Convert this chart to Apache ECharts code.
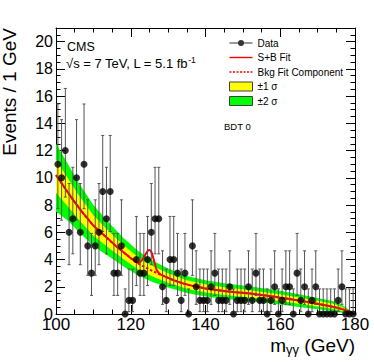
<!DOCTYPE html>
<html>
<head>
<meta charset="utf-8">
<script src="https://cdn.jsdelivr.net/npm/echarts@6/dist/echarts.min.js"></script>
<style>
  html, body { margin: 0; padding: 0; background: #fff; }
  #chart { width: 374px; height: 362px; }
</style>
</head>
<body>
<div id="chart"></div>
<script>
// diphoton mass spectrum, BDT category 0, 1 GeV bins
const massBins = [
  100.5, 101.5, 102.5, 103.5, 104.5, 105.5, 106.5, 107.5, 108.5, 109.5,
  110.5, 111.5, 112.5, 113.5, 114.5, 115.5, 116.5, 117.5, 118.5, 119.5,
  120.5, 121.5, 122.5, 123.5, 124.5, 125.5, 126.5, 127.5, 128.5, 129.5,
  130.5, 131.5, 132.5, 133.5, 134.5, 135.5, 136.5, 137.5, 138.5, 139.5,
  140.5, 141.5, 142.5, 143.5, 144.5, 145.5, 146.5, 147.5, 148.5, 149.5,
  150.5, 151.5, 152.5, 153.5, 154.5, 155.5, 156.5, 157.5, 158.5, 159.5,
  160.5, 161.5, 162.5, 163.5, 164.5, 165.5, 166.5, 167.5, 168.5, 169.5,
  170.5, 171.5, 172.5, 173.5, 174.5, 175.5, 176.5, 177.5, 178.5, 179.5
];
const events = [
  11, 10, 12, 6, 7, 10, 6, 11, 5, 3,
  5, 6, 9, 7, 9, 3, 3, 5, 0, 1,
  1, 4, 3, 3, 4, 6, 7, 7, 2, 1,
  4, 4, 3, 1, 3, 0, 5, 2, 1, 1,
  1, 2, 3, 1, 1, 1, 2, 0, 1, 1,
  1, 2, 1, 3, 1, 1, 0, 1, 2, 0,
  1, 2, 2, 0, 3, 1, 2, 0, 1, 2,
  0, 0, 0, 0, 0, 1, 2, 0, 0, 0
];
// 68% poisson interval edges, looked up by count n = 0..12
const poissonLow = [0, 0.173, 0.708, 1.367, 2.086, 2.840, 3.620, 4.419, 5.232, 6.057, 6.891, 7.734, 8.585];
const poissonHigh = [1.841, 3.300, 4.638, 5.918, 7.163, 8.382, 9.584, 10.77, 11.95, 13.11, 14.27, 15.42, 16.56];

// fit curves
const fitMass = [100, 102, 104, 106, 108, 110, 112, 114, 116, 118,
  120, 121, 122, 123, 124, 124.5, 125, 125.5, 126, 126.5,
  127, 128, 130, 132, 134, 136, 138, 140, 144, 148,
  152, 156, 160, 164, 168, 172, 175, 177, 179, 180];
const bkgFit = [10.2, 9.4, 8.6, 7.85, 7.15, 6.5, 6.0, 5.5, 5.0, 4.55,
  4.1, 3.9, 3.72, 3.56, 3.41, 3.34, 3.27, 3.2, 3.13, 3.07,
  3.0, 2.88, 2.65, 2.43, 2.25, 2.1, 1.98, 1.88, 1.72, 1.6,
  1.5, 1.36, 1.2, 1.03, 0.85, 0.64, 0.47, 0.32, 0.11, 0];
const sbFit = [10.2, 9.4, 8.6, 7.85, 7.15, 6.5, 6.0, 5.5, 5.0, 4.55,
  4.1, 3.9, 3.75, 3.95, 4.4, 4.62, 4.7, 4.55, 4.15, 3.65,
  3.2, 2.9, 2.65, 2.43, 2.25, 2.1, 1.98, 1.88, 1.72, 1.6,
  1.5, 1.36, 1.2, 1.03, 0.85, 0.64, 0.47, 0.32, 0.11, 0];

// uncertainty bands
const bandMass = [100, 103, 106, 110, 114, 118, 122, 126, 130, 135, 140, 145, 150, 155, 160, 165, 170, 174, 177, 180];
const band2Lo = [7.5, 6.9, 6.05, 5.0, 4.25, 3.5, 2.82, 2.34, 1.95, 1.55, 1.28, 1.11, 0.99, 0.86, 0.7, 0.51, 0.34, 0.2, 0.08, 0];
const band1Lo = [8.9, 7.95, 6.95, 5.75, 4.88, 4.03, 3.27, 2.73, 2.3, 1.86, 1.58, 1.4, 1.27, 1.12, 0.95, 0.75, 0.55, 0.39, 0.21, 0];
const band1Hi = [11.3, 10.05, 8.75, 7.25, 6.12, 5.07, 4.17, 3.51, 3.0, 2.48, 2.18, 1.96, 1.81, 1.64, 1.45, 1.21, 0.97, 0.77, 0.45, 0];
const band2Hi = [12.5, 11.1, 9.65, 8.0, 6.75, 5.6, 4.62, 3.9, 3.35, 2.79, 2.48, 2.25, 2.09, 1.9, 1.7, 1.45, 1.18, 0.96, 0.58, 0];

const xRange = [100, 180];
const yRange = [0, 21];

const FONT = 'Liberation Sans, Arial, Helvetica, sans-serif';

function bandSeries(name, lo, hi, color) {
  return {
    type: 'custom',
    name: name,
    silent: true,
    z: 1,
    itemStyle: { color: color },
    data: [[bandMass[0], lo[0]]],
    renderItem: function (params, api) {
      const pts = [];
      for (let i = 0; i < bandMass.length; i++) pts.push(api.coord([bandMass[i], hi[i]]));
      for (let i = bandMass.length - 1; i >= 0; i--) pts.push(api.coord([bandMass[i], lo[i]]));
      return { type: 'polygon', shape: { points: pts }, style: { fill: color } };
    }
  };
}

function frameAxis(kind, position, interval, tickLen, withLine, withLabels) {
  const range = kind === 'x' ? xRange : yRange;
  return {
    type: 'value',
    position: position,
    min: range[0],
    max: range[1],
    interval: interval,
    axisLine: { show: withLine, onZero: false, lineStyle: { color: '#000', width: 1 } },
    axisTick: { show: true, inside: true, length: tickLen, lineStyle: { color: '#000', width: 1 } },
    axisLabel: withLabels ? {
      show: true, color: '#000', fontFamily: FONT,
      fontSize: kind === 'x' ? 17 : 16,
      margin: kind === 'x' ? 2 : 3,
      showMaxLabel: kind === 'x'
    } : { show: false },
    splitLine: { show: false }
  };
}

const dotted = 'path://M0,0 L0,0 M23,9 L23,9 ' +
  'M0,3.8 h2 v1.4 h-2 Z M3.5,3.8 h2 v1.4 h-2 Z M7,3.8 h2 v1.4 h-2 Z M10.5,3.8 h2 v1.4 h-2 Z ' +
  'M14,3.8 h2 v1.4 h-2 Z M17.5,3.8 h2 v1.4 h-2 Z M21,3.8 h2 v1.4 h-2 Z';

const chart = echarts.init(document.getElementById('chart'), null, { renderer: 'svg' });

chart.setOption({
  animation: false,
  backgroundColor: '#fff',
  grid: { left: 56, right: 19, top: 28, bottom: 48 },
  xAxis: [
    frameAxis('x', 'bottom', 20, 9, true, true),
    frameAxis('x', 'bottom', 5, 4.5, false, false),
    frameAxis('x', 'top', 20, 9, true, false),
    frameAxis('x', 'top', 5, 4.5, false, false)
  ],
  yAxis: [
    frameAxis('y', 'left', 2, 9, true, true),
    frameAxis('y', 'left', 0.5, 4.5, false, false),
    frameAxis('y', 'right', 2, 9, true, false),
    frameAxis('y', 'right', 0.5, 4.5, false, false)
  ],
  legend: {
    orient: 'vertical',
    left: 229,
    top: 36,
    padding: 0,
    itemGap: 0.5,
    itemWidth: 23,
    itemHeight: 9,
    selectedMode: false,
    textStyle: { fontSize: 10, fontFamily: FONT, color: '#000', lineHeight: 14 },
    data: [
      { name: 'Data', icon: 'path://M0,0 L0,0 M23,9 L23,9 M0,4 L23,4 L23,5 L0,5 Z M8.5,4.5 A3,3 0 1 1 14.5,4.5 A3,3 0 1 1 8.5,4.5 Z',
        itemStyle: { color: '#000', borderWidth: 0 } },
      { name: 'S+B Fit', icon: 'path://M0,0 L0,0 M23,9 L23,9 M0,3.8 L23,3.8 L23,5.2 L0,5.2 Z',
        itemStyle: { color: '#ff0000', borderWidth: 0 } },
      { name: 'Bkg Fit Component', icon: dotted, itemStyle: { color: '#ff0000', borderWidth: 0 } },
      { name: '±1 σ', icon: 'rect', itemStyle: { color: '#ffff00', borderColor: '#404040', borderWidth: 1 } },
      { name: '±2 σ', icon: 'rect', itemStyle: { color: '#00ff00', borderColor: '#404040', borderWidth: 1 } }
    ]
  },
  graphic: [
    { type: 'text', x: 67, y: 47, style: { text: 'CMS', fontSize: 12.5, fontFamily: FONT, fill: '#000', verticalAlign: 'middle' } },
    { type: 'text', x: 66, y: 63, style: {
      text: '{a|√s = 7 TeV, L = 5.1 fb}{b|-1}', verticalAlign: 'middle',
      rich: {
        a: { fontSize: 13, fontFamily: FONT, fill: '#000' },
        b: { fontSize: 8.5, fontFamily: FONT, fill: '#000', padding: [0, 0, 7, 0] }
      } } },
    { type: 'text', x: 224, y: 126, style: { text: 'BDT 0', fontSize: 9.5, fontFamily: FONT, fill: '#000', verticalAlign: 'middle' } },
    { type: 'text', x: -0.5, y: 28, rotation: Math.PI / 2, style: {
      text: 'Events / 1 GeV', fontSize: 19, fontFamily: FONT, fill: '#000', align: 'right', verticalAlign: 'top' } },
    { type: 'text', x: 355, y: 345, style: {
      text: '{a|m}{s|γγ}{a| (GeV)}', align: 'right', verticalAlign: 'middle',
      rich: {
        a: { fontSize: 19, fontFamily: FONT, fill: '#000' },
        s: { fontSize: 13, fontFamily: FONT, fill: '#000', padding: [9, 0, 0, 0] }
      } } }
  ],
  series: [
    bandSeries('±2 σ', band2Lo, band2Hi, '#00ff00'),
    bandSeries('±1 σ', band1Lo, band1Hi, '#ffff00'),
    {
      type: 'line',
      name: 'Bkg Fit Component',
      data: fitMass.map((m, i) => [m, bkgFit[i]]),
      symbol: 'none',
      smooth: 0.4,
      z: 3,
      itemStyle: { color: '#ff0000' },
      lineStyle: { color: '#ff0000', width: 2, type: [2.5, 2] }
    },
    {
      type: 'line',
      name: 'S+B Fit',
      data: fitMass.map((m, i) => [m, sbFit[i]]),
      symbol: 'none',
      smooth: 0.4,
      z: 3,
      itemStyle: { color: '#ff0000' },
      lineStyle: { color: '#ff0000', width: 2 }
    },
    {
      type: 'scatter',
      name: 'Data',
      data: massBins.map((m, i) => [m, events[i]]),
      symbolSize: 7,
      z: 5,
      itemStyle: { color: '#000' }
    },
    {
      type: 'custom',
      name: 'Data errors',
      silent: true,
      z: 4,
      data: massBins.map((m, i) => [m, poissonLow[events[i]], poissonHigh[events[i]]]),
      encode: { x: 0, y: [1, 2] },
      renderItem: function (params, api) {
        const lo = api.coord([api.value(0), api.value(1)]);
        const hi = api.coord([api.value(0), api.value(2)]);
        const st = { stroke: '#555', lineWidth: 1 };
        return {
          type: 'group',
          children: [
            { type: 'line', shape: { x1: lo[0], y1: lo[1], x2: hi[0], y2: hi[1] }, style: st },
            { type: 'line', shape: { x1: hi[0] - 1.5, y1: hi[1], x2: hi[0] + 1.5, y2: hi[1] }, style: st },
            { type: 'line', shape: { x1: lo[0] - 1.5, y1: lo[1], x2: lo[0] + 1.5, y2: lo[1] }, style: st }
          ]
        };
      }
    }
  ]
});
</script>
</body>
</html>
